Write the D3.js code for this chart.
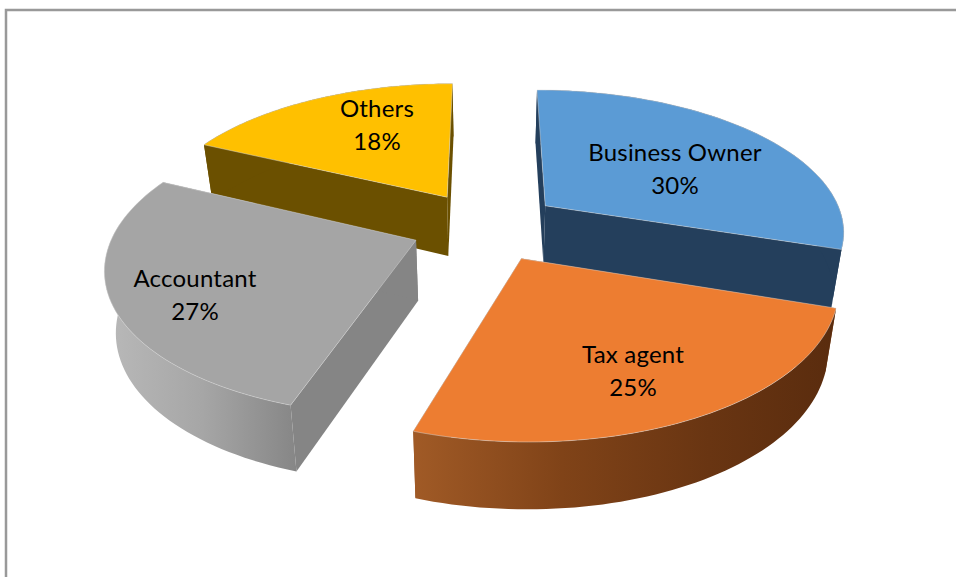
<!DOCTYPE html>
<html><head><meta charset="utf-8">
<script src="https://cdn.jsdelivr.net/npm/d3@7/dist/d3.min.js"></script>
<style>html,body{margin:0;padding:0;background:#fff}svg{display:block}</style>
</head><body><svg id="c" width="956" height="577"></svg>
<script>
const categories = ["Business Owner","Tax agent","Accountant","Others"];
const shares = [30,25,27,18];
const topColors = ["#5b9bd5","#ed7d31","#a5a5a5","#ffc000"];
const sideColors = ["#243f5c","#8f4d1f","#9a9a9a","#6b5000"];
const radialColors = ["#243f5c","#8f4d1f","#858585","#6b5000"];

const W=956,H=577,cx=486,cy=226,rx=300,ry=141,k=0.165,depth=60,explode=0.25;
const svg=d3.select("#c");
svg.append("rect").attr("x",6).attr("y",10).attr("width",1000).attr("height",1000)
  .attr("fill","#fff").attr("stroke","#999").attr("stroke-width",2.5);
const defs=svg.append("defs");
const orangeG=defs.append("linearGradient").attr("id","gO").attr("gradientUnits","userSpaceOnUse")
  .attr("x1",415).attr("x2",835).attr("y1",0).attr("y2",0);
[[0,"#a05a26"],[0.35,"#804318"],[0.7,"#693512"],[1,"#5a2c0e"]].forEach(s=>orangeG.append("stop").attr("offset",s[0]).attr("stop-color",s[1]));
const grayG=defs.append("linearGradient").attr("id","gG").attr("gradientUnits","userSpaceOnUse")
  .attr("x1",105).attr("x2",300).attr("y1",0).attr("y2",0);
[[0,"#b9b9b9"],[0.5,"#a6a6a6"],[1,"#858585"]].forEach(s=>grayG.append("stop").attr("offset",s[0]).attr("stop-color",s[1]));

function project(X,Y,d){
  const w=1-k*Y;
  const sx=1-0.03*d;
  return [cx+rx*X/w*sx, cy+ry*Y/w+depth*d*(1+0.1*Y)];
}
const pie=d3.pie().sort(null).value(d=>d)(shares);
const pathOf=pts=>d3.line()(pts)+"Z";
const order=[3,2,0,1];
order.forEach(i=>{
  const a=pie[i], mid=(a.startAngle+a.endAngle)/2;
  const ox=explode*Math.sin(mid), oy=-explode*Math.cos(mid);
  const P=(r,t,d)=>project(ox+r*Math.sin(t),oy-r*Math.cos(t),d);
  const angles=d3.range(0,61).map(j=>a.startAngle+(a.endAngle-a.startAngle)*j/60);
  const g=svg.append("g");
  [a.startAngle,a.endAngle].forEach(t=>{
    g.append("path").attr("d",pathOf([P(0,t,0),P(1,t,0),P(1,t,1),P(0,t,1)])).attr("fill",radialColors[i]);
  });
  const outer=angles.map(t=>P(1,t,0)).concat(angles.slice().reverse().map(t=>P(1,t,1)));
  g.append("path").attr("d",pathOf(outer))
    .attr("fill", i===1?"url(#gO)": i===2?"url(#gG)":sideColors[i]);
  const top=[P(0,0,0)].concat(angles.map(t=>P(1,t,0)));
  g.append("path").attr("d",pathOf(top)).attr("fill",topColors[i]).attr("stroke","#d8d8d8").attr("stroke-width",0.8).attr("stroke-opacity",.6);
});
const labelPos=[[675,153],[633,355],[195,279],[377,109]];
categories.forEach((c,i)=>{
  const t=svg.append("text").attr("y",labelPos[i][1]+8)
    .attr("text-anchor","middle").attr("font-family","Lato, 'Open Sans', sans-serif").attr("font-size",24).attr("letter-spacing",0.2).attr("fill","#000");
  t.append("tspan").attr("x",labelPos[i][0]).text(c);
  t.append("tspan").attr("x",labelPos[i][0]).attr("dy",33).text(shares[i]+"%");
});
</script></body></html>
